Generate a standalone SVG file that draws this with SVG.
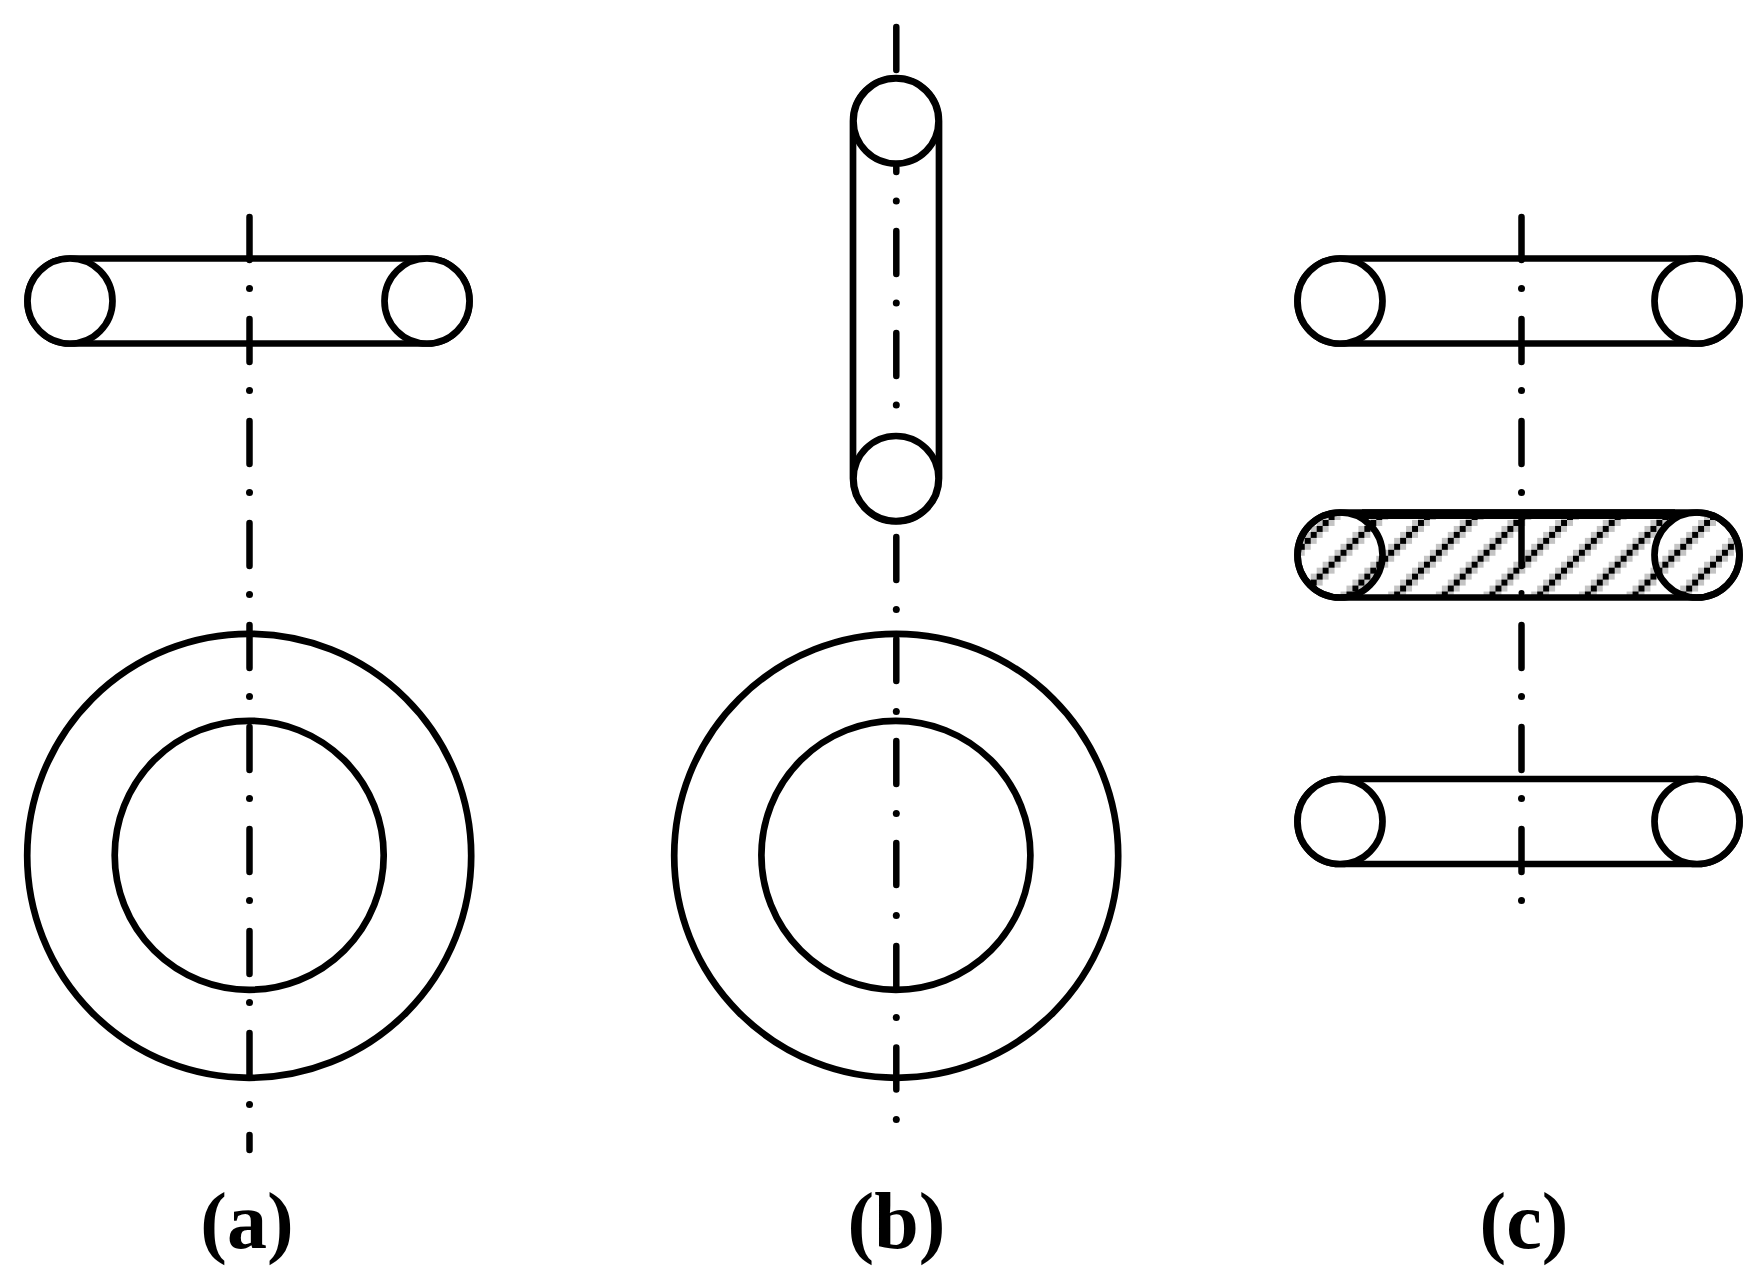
<svg xmlns="http://www.w3.org/2000/svg" width="1762" height="1288" viewBox="0 0 1762 1288">
<style>
.s{fill:none;stroke:#000;stroke-width:6.7}
.c{fill:#fff;stroke:#000;stroke-width:6.7}
.a{fill:none;stroke:#000;stroke-width:6.5;stroke-linecap:round}
.d{fill:#000}
.t{font-family:"Liberation Serif","Times New Roman",serif;font-weight:bold;font-size:80px;text-anchor:middle;fill:#000}
</style>
<defs>
<pattern id="hatch" width="8" height="8" patternUnits="userSpaceOnUse" patternTransform="translate(1418 520) scale(5.96)">
<path fill="#c4c4c4" shape-rendering="crispEdges" d="M0 1h1v1h-1zM1 0h1v1h-1zM7 2h1v1h-1zM6 3h1v1h-1zM5 4h1v1h-1zM4 5h1v1h-1zM3 6h1v1h-1zM2 7h1v1h-1zM0 7h1v1h-1zM7 0h1v1h-1zM1 6h1v1h-1zM2 5h1v1h-1zM3 4h1v1h-1zM4 3h1v1h-1zM5 2h1v1h-1zM6 1h1v1h-1z"/>
<path fill="#000" shape-rendering="crispEdges" d="M0 0h1v1h-1zM7 1h1v1h-1zM6 2h1v1h-1zM5 3h1v1h-1zM4 4h1v1h-1zM3 5h1v1h-1zM2 6h1v1h-1zM1 7h1v1h-1z"/>
</pattern>
</defs>
<rect width="1762" height="1288" fill="#fff"/>
<g id="axes">
<path class="a" d="M249.500 217V260M249.500 319V362M249.500 421V464M249.500 523V566M249.500 625V668M249.500 727V770M249.500 829V872M249.500 931V974M249.500 1033V1076M249.500 1135V1150"/>
<g class="d"><circle cx="249.500" cy="288.500" r="3.500"/><circle cx="249.500" cy="390.500" r="3.500"/><circle cx="249.500" cy="492.500" r="3.500"/><circle cx="249.500" cy="594.500" r="3.500"/><circle cx="249.500" cy="696.500" r="3.500"/><circle cx="249.500" cy="798.500" r="3.500"/><circle cx="249.500" cy="900.500" r="3.500"/><circle cx="249.500" cy="1002.500" r="3.500"/><circle cx="249.500" cy="1104.500" r="3.500"/></g>
<path class="a" d="M896.300 27V70M896.300 129V172M896.300 231V274M896.300 333V376M896.300 537V580M896.300 639V681M896.300 741V784M896.300 843V885M896.300 946V988M896.300 1047.500V1089.500"/>
<g class="d"><circle cx="896.300" cy="201" r="3.500"/><circle cx="896.300" cy="303" r="3.500"/><circle cx="896.300" cy="405" r="3.500"/><circle cx="896.300" cy="609.500" r="3.500"/><circle cx="896.300" cy="711.500" r="3.500"/><circle cx="896.300" cy="813.500" r="3.500"/><circle cx="896.300" cy="915.500" r="3.500"/><circle cx="896.300" cy="1017.500" r="3.500"/><circle cx="896.300" cy="1119.500" r="3.500"/></g>
<path class="a" d="M1521.500 217V260M1521.500 319V362M1521.500 421V464M1521.500 625V668M1521.500 727V770M1521.500 829V872"/>
<g class="d"><circle cx="1521.500" cy="288.500" r="3.500"/><circle cx="1521.500" cy="390.500" r="3.500"/><circle cx="1521.500" cy="492.500" r="3.500"/><circle cx="1521.500" cy="696.500" r="3.500"/><circle cx="1521.500" cy="798.500" r="3.500"/><circle cx="1521.500" cy="900.500" r="3.500"/></g>
</g>
<g id="a-section">
<path class="s" d="M70 258.500H427A42.500 42.500 0 0 1 427 343.500H70A42.500 42.500 0 0 1 70 258.500Z"/>
<circle class="c" cx="70" cy="301" r="42.500"/><circle class="c" cx="427" cy="301" r="42.500"/>
</g>
<g id="a-ring">
<circle class="s" cx="249.200" cy="855.800" r="222"/>
<circle class="s" cx="249.200" cy="855.300" r="134.500"/>
</g>
<g id="b-section">
<path fill="none" stroke="#000" stroke-width="6.700" d="M853 121V478.500A43 43 0 0 0 939 478.500V121A43 43 0 0 0 853 121Z"/>
<circle class="c" cx="896" cy="121" r="42.500"/><circle class="c" cx="896" cy="478.500" r="42.500"/>
</g>
<g id="b-ring">
<circle class="s" cx="896.200" cy="855.800" r="222"/>
<circle class="s" cx="895.900" cy="855.300" r="134.500"/>
</g>
<g id="c-top">
<path class="s" d="M1340 258.500H1697A42.500 42.500 0 0 1 1697 343.500H1340A42.500 42.500 0 0 1 1340 258.500Z"/>
<circle class="c" cx="1340" cy="301" r="42.500"/><circle class="c" cx="1697" cy="301" r="42.500"/>
</g>
<g id="c-middle">
<path fill="url(#hatch)" stroke="#000" stroke-width="6.700" d="M1340 512.500H1697A42.500 42.500 0 0 1 1697 597.500H1340A42.500 42.500 0 0 1 1340 512.500Z"/>
<rect x="1362" y="509.300" width="313" height="9.700" fill="#000"/>
<circle cx="1340" cy="555" r="42.500" class="s"/><circle cx="1697" cy="555" r="42.500" class="s"/>
<path class="a" stroke-linecap="butt" d="M1521.500 519V566"/>
<circle cx="1521.500" cy="593" r="3" class="d"/>
</g>
<g id="c-bottom">
<path class="s" d="M1340 779H1697A42.500 42.500 0 0 1 1697 864H1340A42.500 42.500 0 0 1 1340 779Z"/>
<circle class="c" cx="1340" cy="821.500" r="42.500"/><circle class="c" cx="1697" cy="821.500" r="42.500"/>
</g>
<g id="labels">
<text class="t" x="247" y="1248">(a)</text>
<text class="t" x="896.500" y="1248">(b)</text>
<text class="t" x="1524" y="1248">(c)</text>
</g>
</svg>
